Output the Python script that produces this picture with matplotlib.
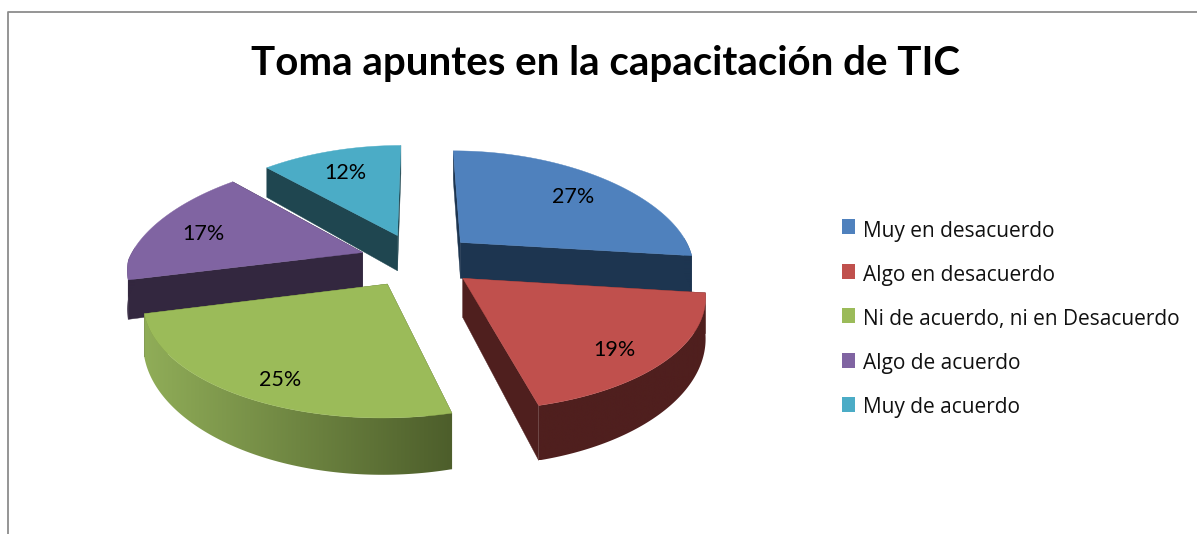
#!/usr/bin/env python
# Exploded 3D style pie, drawn as polygons because matplotlib has no 3D pie.
import numpy as np
import matplotlib
matplotlib.use("Agg")
import matplotlib.pyplot as plt
from matplotlib.patches import Polygon, Rectangle

title = "Toma apuntes en la capacitación de TIC"
categories = ["Muy en desacuerdo", "Algo en desacuerdo",
              "Ni de acuerdo, ni en Desacuerdo", "Algo de acuerdo", "Muy de acuerdo"]
values = [27, 19, 25, 17, 12]
top_colors = ["#4F81BD", "#C0504D", "#9BBB59", "#8064A2", "#4BACC6"]
wall_light = ["#1D3550", "#4F1F1E", "#90AD58", "#33273F", "#1F4650"]
wall_dark = ["#1D3550", "#4F1F1E", "#4D5E2B", "#33273F", "#1F4650"]
cut_colors = ["#1D3550", "#4F1F1E", "#4D5E2B", "#33273F", "#1F4650"]

CX, CY = 418, 260
R, TILT, K = 234, 108.5, 0.136
K_BACK = 0.21  # the back of the pie narrows a bit faster in x
DEPTH, K_DEPTH = 37.5, 0.28
EXPLODE = 0.25


def project(u, v, down=0.0):
    # v > 0 is towards the viewer, front of the pie gets bigger
    s = 1.0 / (1.0 - K * v)
    sx = s if v >= 0 else 1.0 / (1.0 - K_BACK * v)
    return CX + R * u * sx, CY + TILT * v * s + down / (1.0 - K_DEPTH * v)


def hex2rgb(c):
    return np.array(matplotlib.colors.to_rgb(c))


fig = plt.figure(figsize=(11.97, 5.34), dpi=100)
ax = fig.add_axes([0, 0, 1, 1])
ax.axis("off")

# chart frame, cut by the crop on right and bottom
ax.plot([8, 8, 1197], [534, 12, 12], color="#8C8C8C", lw=1.3)

ax.text(605, 64, title, ha="center", va="center", fontsize=29,
        fontweight="bold", family="Lato")

fractions = np.array(values) / sum(values)
starts = np.concatenate([[0], np.cumsum(fractions)[:-1]]) * 2 * np.pi
ends = np.cumsum(fractions) * 2 * np.pi

slices = []
for i in range(len(values)):
    mid = (starts[i] + ends[i]) / 2
    slices.append((np.cos(mid), i))

# paint from the back of the pie to the front
z = 2
for _, i in sorted(slices, key=lambda t: -t[0]):
    a0, a1 = starts[i], ends[i]
    mid = (a0 + a1) / 2
    ou, ov = EXPLODE * np.sin(mid), -EXPLODE * np.cos(mid)
    t = np.linspace(a0, a1, 90)
    us = ou + np.sin(t)
    vs = ov - np.cos(t)

    # cut faces
    for ang in (a0, a1):
        eu, ev = ou + np.sin(ang), ov - np.cos(ang)
        face = [project(ou, ov), project(eu, ev), project(eu, ev, DEPTH), project(ou, ov, DEPTH)]
        ax.add_patch(Polygon(face, closed=True, fc=cut_colors[i], ec=cut_colors[i], lw=0.3, zorder=z))
        z += 1

    # outer wall, only the part turned to the viewer, a left to right gradient clipped to it
    front = np.cos(t) <= 0.05
    if front.any():
        upper = [project(u, v) for u, v in zip(us[front], vs[front])]
        lower = [project(u, v, DEPTH) for u, v in zip(us[front], vs[front])]
        wall = Polygon(upper + lower[::-1], closed=True, fc="none", ec="none",
                       transform=ax.transData)
        ax.add_patch(wall)
        xs = [p[0] for p in upper]
        ys = [p[1] for p in upper + lower]
        ramp = np.linspace(hex2rgb(wall_light[i]), hex2rgb(wall_dark[i]), 256)[np.newaxis, :, :]
        im = ax.imshow(ramp, extent=[min(xs), max(xs), max(ys), min(ys)],
                       aspect="auto", zorder=z)
        im.set_clip_path(wall)
        z += 1

    # top face
    top = [project(ou, ov)] + [project(u, v) for u, v in zip(us, vs)]
    ax.add_patch(Polygon(top, closed=True, fc=top_colors[i], ec=top_colors[i], lw=0.3, zorder=z))
    z += 1

    # percent label towards the rim of the slice, the front ones sit lower
    rv = 0.84 if np.cos(mid) < 0 else 0.76
    lx, ly = project(ou + 0.76 * np.sin(mid), ov - rv * np.cos(mid))
    ax.text(lx, ly + 3, "%d%%" % values[i], ha="center", va="center",
            fontsize=15.5, family="Lato", color="black", zorder=100)

# legend
for i, name in enumerate(categories):
    ax.add_patch(Rectangle((842, 219 + i * 44.6), 13, 15, fc=top_colors[i], ec="none"))
    ax.text(863, 237 + i * 44, name, ha="left", va="baseline", fontsize=15,
            family="Open Sans", color="#111111")

# imshow resets the limits, so set them last
ax.set_xlim(0, 1197)
ax.set_ylim(534, 0)

fig.savefig("out.png", dpi=100)
